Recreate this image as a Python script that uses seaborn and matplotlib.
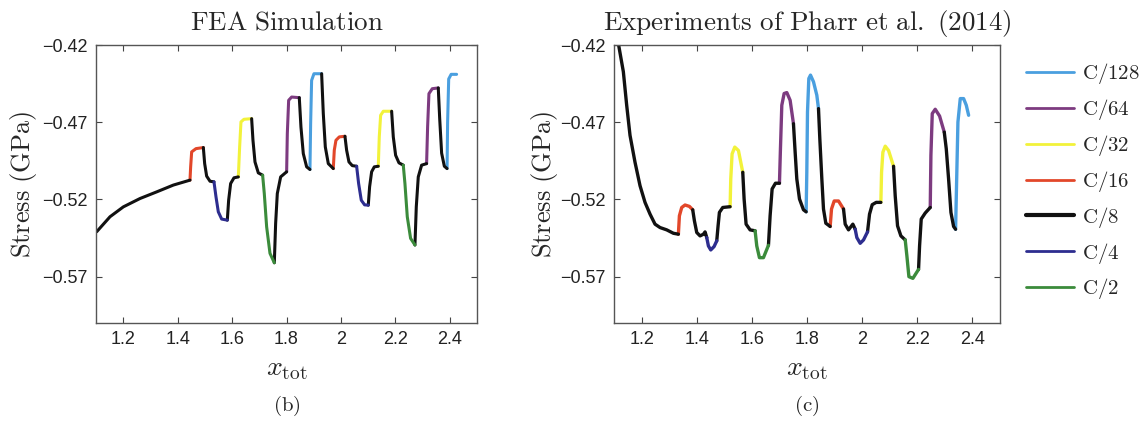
import matplotlib
matplotlib.use("Agg")
import matplotlib.pyplot as plt
import seaborn as sns
import pandas as pd
from matplotlib.lines import Line2D

# ---------------- data ----------------
rates = ["C/128", "C/64", "C/32", "C/16", "C/8", "C/4", "C/2"]
rate_colors = ["#4a9fdf", "#7d3b80", "#f2f23a", "#e2472a", "#111111", "#2d2d8f", "#3b8b3b"]

x_ticks = [1.2, 1.4, 1.6, 1.8, 2.0, 2.2, 2.4]
x_tick_labels = ["1.2", "1.4", "1.6", "1.8", "2", "2.2", "2.4"]
y_ticks = [-0.42, -0.47, -0.52, -0.57]
y_tick_labels = ["\u22120.42", "\u22120.47", "\u22120.52", "\u22120.57"]

# FEA simulation: segments (rate, x values, stress values)
fea_rate = ["C/8", "C/16", "C/8", "C/4", "C/8", "C/32", "C/8", "C/2", "C/8", "C/64", "C/8", "C/128",
            "C/8", "C/16", "C/8", "C/4", "C/8", "C/32", "C/8", "C/2", "C/8", "C/64", "C/8", "C/128"]
fea_x = [
    [1.1025, 1.1515, 1.2005, 1.2617, 1.3230, 1.3841, 1.4454],
    [1.4454, 1.4478, 1.4515, 1.4674, 1.4944],
    [1.4944, 1.4993, 1.5066, 1.5189, 1.5335],
    [1.5335, 1.5409, 1.5494, 1.5617, 1.5825],
    [1.5825, 1.5874, 1.5947, 1.6070, 1.6230],
    [1.6230, 1.6278, 1.6327, 1.6437, 1.6719],
    [1.6719, 1.6768, 1.6842, 1.6964, 1.7123],
    [1.7123, 1.7184, 1.7270, 1.7393, 1.7552],
    [1.7552, 1.7601, 1.7662, 1.7785, 1.8005],
    [1.8005, 1.8030, 1.8079, 1.8189, 1.8470],
    [1.8470, 1.8531, 1.8617, 1.8740, 1.8862],
    [1.8862, 1.8887, 1.8923, 1.9009, 1.9291],
    [1.9291, 1.9352, 1.9426, 1.9536, 1.9719],
    [1.9719, 1.9756, 1.9817, 1.9940, 2.0148],
    [2.0148, 2.0209, 2.0295, 2.0417, 2.0577],
    [2.0577, 2.0650, 2.0748, 2.0870, 2.1005],
    [2.1005, 2.1054, 2.1128, 2.1226, 2.1373],
    [2.1373, 2.1409, 2.1459, 2.1557, 2.1863],
    [2.1863, 2.1924, 2.2010, 2.2132, 2.2291],
    [2.2291, 2.2352, 2.2438, 2.2560, 2.2720],
    [2.2720, 2.2769, 2.2842, 2.2965, 2.3148],
    [2.3148, 2.3185, 2.3234, 2.3356, 2.3577],
    [2.3577, 2.3630, 2.3700, 2.3800, 2.3900],
    [2.3900, 2.3920, 2.3960, 2.4050, 2.4250],
]
fea_y = [
    [-0.5409, -0.5312, -0.5248, -0.5194, -0.5151, -0.5107, -0.5075],
    [-0.5075, -0.4989, -0.4892, -0.4871, -0.4864],
    [-0.4864, -0.4968, -0.5049, -0.5082, -0.5086],
    [-0.5086, -0.5183, -0.5280, -0.5327, -0.5334],
    [-0.5334, -0.5205, -0.5097, -0.5060, -0.5054],
    [-0.5054, -0.4860, -0.4698, -0.4681, -0.4677],
    [-0.4677, -0.4817, -0.4957, -0.5028, -0.5043],
    [-0.5043, -0.5162, -0.5377, -0.5549, -0.5610],
    [-0.5610, -0.5355, -0.5162, -0.5054, -0.5021],
    [-0.5021, -0.4774, -0.4558, -0.4537, -0.4541],
    [-0.4541, -0.4731, -0.4903, -0.4989, -0.5006],
    [-0.5006, -0.4709, -0.4429, -0.4386, -0.4386],
    [-0.4386, -0.4644, -0.4860, -0.4968, -0.5000],
    [-0.5000, -0.4881, -0.4817, -0.4795, -0.4791],
    [-0.4791, -0.4881, -0.4957, -0.4981, -0.4985],
    [-0.4985, -0.5097, -0.5205, -0.5235, -0.5237],
    [-0.5237, -0.5118, -0.5021, -0.4989, -0.4985],
    [-0.4985, -0.4795, -0.4655, -0.4629, -0.4629],
    [-0.4629, -0.4795, -0.4914, -0.4963, -0.4978],
    [-0.4978, -0.5097, -0.5312, -0.5452, -0.5495],
    [-0.5495, -0.5248, -0.5054, -0.4978, -0.4968],
    [-0.4968, -0.4731, -0.4515, -0.4483, -0.4478],
    [-0.4478, -0.4680, -0.4900, -0.4985, -0.5000],
    [-0.5000, -0.4700, -0.4420, -0.4390, -0.4390],
]

# Experiments of Pharr et al. (2014)
exp_rate = ["C/8", "C/16", "C/8", "C/4", "C/8", "C/32", "C/8", "C/2", "C/8", "C/64", "C/8", "C/128",
            "C/8", "C/16", "C/8", "C/4", "C/8", "C/32", "C/8", "C/2", "C/8", "C/64", "C/8", "C/128"]
exp_x = [
    [1.1157, 1.1339, 1.1460, 1.1581, 1.1762, 1.1944, 1.2125, 1.2307, 1.2488, 1.2670, 1.2912, 1.3154, 1.3335],
    [1.3335, 1.3372, 1.3456, 1.3577, 1.3734, 1.3855],
    [1.3855, 1.3916, 1.4001, 1.4122, 1.4243, 1.4303, 1.4364],
    [1.4364, 1.4424, 1.4509, 1.4630, 1.4727],
    [1.4727, 1.4775, 1.4823, 1.4945, 1.5211],
    [1.5211, 1.5235, 1.5283, 1.5380, 1.5513, 1.5670],
    [1.5670, 1.5719, 1.5791, 1.5936, 1.6118],
    [1.6118, 1.6178, 1.6275, 1.6420, 1.6602],
    [1.6602, 1.6662, 1.6735, 1.6856, 1.7001],
    [1.7001, 1.7037, 1.7086, 1.7171, 1.7268, 1.7388, 1.7509],
    [1.7509, 1.7570, 1.7630, 1.7727, 1.7872, 1.7969],
    [1.7969, 1.7993, 1.8018, 1.8066, 1.8127, 1.8235, 1.8356, 1.8417],
    [1.8417, 1.8465, 1.8538, 1.8598, 1.8683, 1.8840],
    [1.8840, 1.8889, 1.8986, 1.9143, 1.9324],
    [1.9324, 1.9385, 1.9506, 1.9663, 1.9748],
    [1.9748, 1.9808, 1.9929, 2.0050, 2.0195],
    [2.0195, 2.0268, 2.0365, 2.0510, 2.0679],
    [2.0679, 2.0704, 2.0752, 2.0837, 2.0958, 2.1139],
    [2.1139, 2.1199, 2.1284, 2.1405, 2.1562],
    [2.1562, 2.1623, 2.1696, 2.1840, 2.2046],
    [2.2046, 2.2083, 2.2143, 2.2288, 2.2470],
    [2.2470, 2.2494, 2.2543, 2.2651, 2.2809, 2.2978],
    [2.2978, 2.3051, 2.3135, 2.3220, 2.3317, 2.3389],
    [2.3389, 2.3426, 2.3474, 2.3559, 2.3680, 2.3777, 2.3862],
]
exp_y = [
    [-0.4189, -0.4373, -0.4590, -0.4785, -0.4959, -0.5111, -0.5219, -0.5295, -0.5360, -0.5382, -0.5397, -0.5419, -0.5425],
    [-0.5425, -0.5306, -0.5252, -0.5236, -0.5245, -0.5267],
    [-0.5267, -0.5338, -0.5414, -0.5436, -0.5425, -0.5410, -0.5447],
    [-0.5447, -0.5501, -0.5527, -0.5505, -0.5468],
    [-0.5468, -0.5371, -0.5284, -0.5252, -0.5247],
    [-0.5247, -0.5067, -0.4905, -0.4861, -0.4883, -0.5024],
    [-0.5024, -0.5197, -0.5360, -0.5397, -0.5403],
    [-0.5403, -0.5501, -0.5577, -0.5577, -0.5497],
    [-0.5497, -0.5306, -0.5132, -0.5095, -0.5095],
    [-0.5095, -0.4872, -0.4590, -0.4514, -0.4508, -0.4558, -0.4710],
    [-0.4710, -0.4894, -0.5067, -0.5197, -0.5267, -0.5280],
    [-0.5280, -0.5024, -0.4634, -0.4417, -0.4395, -0.4438, -0.4525, -0.4612],
    [-0.4612, -0.4807, -0.5067, -0.5262, -0.5354, -0.5375],
    [-0.5375, -0.5262, -0.5210, -0.5210, -0.5262],
    [-0.5262, -0.5360, -0.5397, -0.5360, -0.5393],
    [-0.5393, -0.5447, -0.5484, -0.5462, -0.5410],
    [-0.5410, -0.5295, -0.5234, -0.5219, -0.5219],
    [-0.5219, -0.5024, -0.4894, -0.4855, -0.4883, -0.4985],
    [-0.4985, -0.5176, -0.5371, -0.5436, -0.5462],
    [-0.5462, -0.5566, -0.5700, -0.5711, -0.5653],
    [-0.5653, -0.5501, -0.5327, -0.5288, -0.5252],
    [-0.5252, -0.4915, -0.4644, -0.4616, -0.4660, -0.4764],
    [-0.4764, -0.4872, -0.5067, -0.5284, -0.5375, -0.5393],
    [-0.5393, -0.5089, -0.4699, -0.4547, -0.4547, -0.4590, -0.4655],
]


def to_frame(seg_rates, seg_x, seg_y):
    rows = []
    for i, (r, xs, ys) in enumerate(zip(seg_rates, seg_x, seg_y)):
        for j, (xv, yv) in enumerate(zip(xs, ys)):
            rows.append({"seg": i, "order": j, "rate": r, "x": xv, "y": yv})
    return pd.DataFrame(rows)


fea_df = to_frame(fea_rate, fea_x, fea_y)
exp_df = to_frame(exp_rate, exp_x, exp_y)

# ---------------- style ----------------
sns.set_style("ticks")
plt.rcParams["font.family"] = ["Liberation Sans", "DejaVu Sans"]
plt.rcParams["mathtext.fontset"] = "cm"
plt.rcParams["axes.unicode_minus"] = True

palette = dict(zip(rates, rate_colors))
W, H = 1145, 423
fig = plt.figure(figsize=(W / 100, H / 100), dpi=100)
ax_l = fig.add_axes([96 / W, 1 - 323 / H, 381 / W, 278 / H])
ax_r = fig.add_axes([614 / W, 1 - 323 / H, 386 / W, 278 / H])

for ax, df, lw, title, tag in [
    (ax_l, fea_df, 2.2, r"$\mathrm{FEA\ Simulation}$", r"$\mathrm{(b)}$"),
    (ax_r, exp_df, 2.4, r"$\mathrm{Experiments\ of\ Pharr\ et\ al.\ (2014)}$", r"$\mathrm{(c)}$"),
]:
    sns.lineplot(data=df, x="x", y="y", hue="rate", units="seg", estimator=None,
                 sort=False, palette=palette, hue_order=rates, legend=False,
                 linewidth=lw, ax=ax)
    ax.set_xlim(1.1, 2.5)
    ax.set_ylim(-0.6, -0.42)
    ax.set_xticks(x_ticks)
    ax.set_xticklabels(x_tick_labels)
    ax.set_yticks(y_ticks)
    ax.set_yticklabels(y_tick_labels)
    ax.tick_params(direction="in", top=True, right=True, length=4, width=0.8,
                   colors="#444444", labelcolor="#222222", labelsize=13, pad=6)
    for s in ax.spines.values():
        s.set_visible(True)
        s.set_color("#555555")
        s.set_linewidth(1.0)
    ax.set_xlabel(r"$x_{\mathrm{tot}}$", fontsize=20, va="center")
    ax.xaxis.set_label_coords(0.5, -0.165)
    ax.set_ylabel(r"$\mathrm{Stress\ (GPa)}$", fontsize=19, va="center")
    ax.set_title(title, fontsize=19.5, pad=11)
    ax.text(0.5, -0.30, tag, transform=ax.transAxes, ha="center", va="center", fontsize=15)

ax_l.yaxis.set_label_coords((24 - 96) / 381, 0.5)
ax_r.yaxis.set_label_coords((545 - 614) / 386, 0.5)

handles = []
for r, c in zip(rates, rate_colors):
    handles.append(Line2D([0], [0], color=c, lw=3.0 if r == "C/8" else 2.0))
labels = [r"$\mathrm{%s}$" % r for r in rates]
fig.legend(handles, labels, loc="upper left", bbox_to_anchor=(1018 / W, 1 - 53 / H),
           frameon=False, fontsize=15, handlelength=2.3, handletextpad=0.35,
           labelspacing=0.52, borderaxespad=0)

fig.savefig("out.png", dpi=100)
